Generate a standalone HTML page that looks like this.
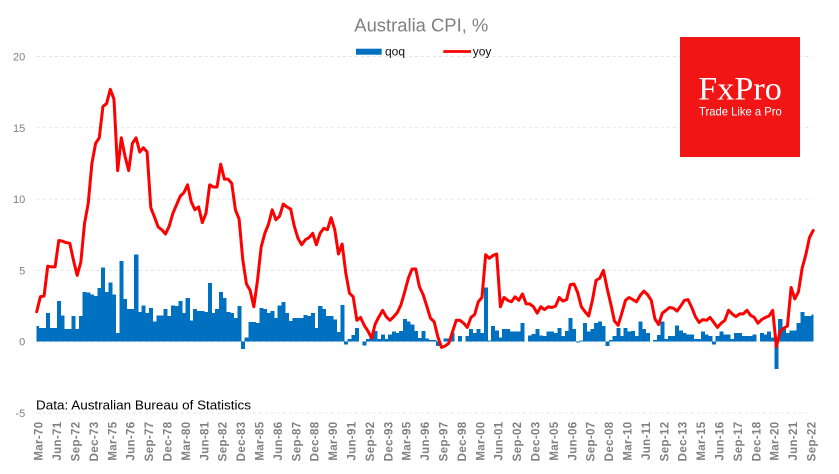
<!DOCTYPE html>
<html>
<head>
<meta charset="utf-8">
<style>
  html,body{margin:0;padding:0;background:#ffffff;}
  svg{display:block;}
  .yl{font-family:"Liberation Sans",Arial,sans-serif;font-size:11px;fill:#7f7f7f;}
  .xl{font-family:"Liberation Sans",Arial,sans-serif;font-size:11.5px;font-weight:bold;fill:#808080;letter-spacing:0.35px;}
  .lg{font-family:"Liberation Sans",Arial,sans-serif;font-size:12px;fill:#111;}
</style>
</head>
<body>
<svg id="c" width="839" height="474" viewBox="0 0 839 474" xmlns="http://www.w3.org/2000/svg">
  <rect x="0" y="0" width="839" height="474" fill="#ffffff"/>
  <g stroke="#e3e3e3" stroke-width="1" stroke-dasharray="3,3" fill="none">
    <line x1="36.7" y1="56.5" x2="811.7" y2="56.5"/>
    <line x1="36.7" y1="127.8" x2="811.7" y2="127.8"/>
    <line x1="36.7" y1="199.1" x2="811.7" y2="199.1"/>
    <line x1="36.7" y1="270.4" x2="811.7" y2="270.4"/>
    <line x1="36.7" y1="341.7" x2="811.7" y2="341.7"/>
    <line x1="36.7" y1="413.0" x2="811.7" y2="413.0"/>
  </g>
  <g id="bars" fill="#0070c0" shape-rendering="crispEdges"></g>
  <polyline id="yoy" fill="none" stroke="#ff0000" stroke-width="3" stroke-linejoin="round" stroke-linecap="round" points=""/>

  <text class="yl" x="25.3" y="60.5" text-anchor="end">20</text>
  <text class="yl" x="25.3" y="131.8" text-anchor="end">15</text>
  <text class="yl" x="25.3" y="203.1" text-anchor="end">10</text>
  <text class="yl" x="25.3" y="274.4" text-anchor="end">5</text>
  <text class="yl" x="25.3" y="345.7" text-anchor="end">0</text>
  <text class="yl" x="25.3" y="417.0" text-anchor="end">-5</text>

  <text x="354.3" y="31.7" font-family="Liberation Sans, Arial, sans-serif" font-size="18.5" fill="#808080" textLength="134" lengthAdjust="spacingAndGlyphs">Australia CPI, %</text>

  <rect x="356" y="48.7" width="25.7" height="6" fill="#0070c0"/>
  <text class="lg" x="385" y="55.5">qoq</text>
  <line x1="443.3" y1="51.5" x2="471" y2="51.5" stroke="#ff0000" stroke-width="2.8"/>
  <text class="lg" x="472.7" y="55.5">yoy</text>

  <rect x="680" y="37" width="120" height="120" fill="#f21516"/>
  <text x="698.3" y="99.3" font-family="Liberation Serif, serif" font-size="33" fill="#ffffff" textLength="83.5" lengthAdjust="spacingAndGlyphs">FxPro</text>
  <text x="699" y="115.3" font-family="Liberation Sans, Arial, sans-serif" font-size="11.6" fill="#ffffff" textLength="82.7" lengthAdjust="spacingAndGlyphs">Trade Like a Pro</text>

  <text x="36" y="409.3" font-family="Liberation Sans, Arial, sans-serif" font-size="13" fill="#000000" textLength="215" lengthAdjust="spacingAndGlyphs">Data: Australian Bureau of Statistics</text>

  <g class="xl" text-anchor="end">
    <text transform="translate(42.7,421.5) rotate(-90)">Mar-70</text>
    <text transform="translate(61.1,421.5) rotate(-90)">Jun-71</text>
    <text transform="translate(79.5,421.5) rotate(-90)">Sep-72</text>
    <text transform="translate(97.9,421.5) rotate(-90)">Dec-73</text>
    <text transform="translate(116.3,421.5) rotate(-90)">Mar-75</text>
    <text transform="translate(134.7,421.5) rotate(-90)">Jun-76</text>
    <text transform="translate(153.1,421.5) rotate(-90)">Sep-77</text>
    <text transform="translate(171.5,421.5) rotate(-90)">Dec-78</text>
    <text transform="translate(189.9,421.5) rotate(-90)">Mar-80</text>
    <text transform="translate(208.3,421.5) rotate(-90)">Jun-81</text>
    <text transform="translate(226.7,421.5) rotate(-90)">Sep-82</text>
    <text transform="translate(245.1,421.5) rotate(-90)">Dec-83</text>
    <text transform="translate(263.5,421.5) rotate(-90)">Mar-85</text>
    <text transform="translate(281.9,421.5) rotate(-90)">Jun-86</text>
    <text transform="translate(300.3,421.5) rotate(-90)">Sep-87</text>
    <text transform="translate(318.7,421.5) rotate(-90)">Dec-88</text>
    <text transform="translate(337.1,421.5) rotate(-90)">Mar-90</text>
    <text transform="translate(355.5,421.5) rotate(-90)">Jun-91</text>
    <text transform="translate(373.9,421.5) rotate(-90)">Sep-92</text>
    <text transform="translate(392.3,421.5) rotate(-90)">Dec-93</text>
    <text transform="translate(410.7,421.5) rotate(-90)">Mar-95</text>
    <text transform="translate(429.1,421.5) rotate(-90)">Jun-96</text>
    <text transform="translate(447.5,421.5) rotate(-90)">Sep-97</text>
    <text transform="translate(465.9,421.5) rotate(-90)">Dec-98</text>
    <text transform="translate(484.3,421.5) rotate(-90)">Mar-00</text>
    <text transform="translate(502.7,421.5) rotate(-90)">Jun-01</text>
    <text transform="translate(521.1,421.5) rotate(-90)">Sep-02</text>
    <text transform="translate(539.5,421.5) rotate(-90)">Dec-03</text>
    <text transform="translate(557.9,421.5) rotate(-90)">Mar-05</text>
    <text transform="translate(576.3,421.5) rotate(-90)">Jun-06</text>
    <text transform="translate(594.7,421.5) rotate(-90)">Sep-07</text>
    <text transform="translate(613.1,421.5) rotate(-90)">Dec-08</text>
    <text transform="translate(631.5,421.5) rotate(-90)">Mar-10</text>
    <text transform="translate(649.9,421.5) rotate(-90)">Jun-11</text>
    <text transform="translate(668.3,421.5) rotate(-90)">Sep-12</text>
    <text transform="translate(686.7,421.5) rotate(-90)">Dec-13</text>
    <text transform="translate(705.1,421.5) rotate(-90)">Mar-15</text>
    <text transform="translate(723.5,421.5) rotate(-90)">Jun-16</text>
    <text transform="translate(741.9,421.5) rotate(-90)">Sep-17</text>
    <text transform="translate(760.3,421.5) rotate(-90)">Dec-18</text>
    <text transform="translate(778.7,421.5) rotate(-90)">Mar-20</text>
    <text transform="translate(797.1,421.5) rotate(-90)">Jun-21</text>
    <text transform="translate(815.5,421.5) rotate(-90)">Sep-22</text>
  </g>
</svg>
<script>
(function(){
var q=[1.1,0.95,0.95,2.0,0.95,0.95,2.85,1.85,0.9,0.9,
1.8,0.9,1.8,3.5,3.45,3.3,3.2,3.75,5.2,3.5,
4.15,3.3,0.6,5.65,3.0,2.3,2.3,6.1,2.1,2.55,
2.0,2.35,1.4,1.85,1.85,2.3,1.8,2.55,2.5,2.85,
2.0,3.05,1.47,2.3,2.15,2.15,2.1,4.1,2.0,2.3,
3.5,3.05,2.1,2.0,1.65,2.5,-0.5,0.28,1.38,1.38,
1.3,2.35,2.3,2.0,2.15,1.65,2.55,2.8,2.0,1.45,
1.65,1.65,1.65,1.87,1.8,2.0,0.95,2.5,2.3,1.8,
1.8,1.55,0.68,2.57,-0.2,0.2,0.47,0.95,0,-0.25,
0.2,0.5,0.75,0.2,0.5,0.2,0.5,0.7,0.62,0.75,
1.6,1.4,1.2,0.75,0.25,0.75,0.23,0.12,0.12,-0.3,
0,0.23,0.23,0.6,0,0.4,0,0.4,0.9,0.6,
0.9,0.6,3.8,0.1,1.1,0.8,0.3,0.9,0.9,0.7,
0.7,0.7,1.3,0,0.45,0.55,0.9,0.45,0.4,0.7,
0.7,0.6,0.95,0.4,0.75,1.65,0.9,-0.07,0.1,1.3,
0.7,0.9,1.3,1.4,1.1,-0.3,0.12,0.4,0.95,0.4,
0.95,0.7,0.75,0.4,1.4,0.9,0.6,0,0.12,0.47,
1.4,0.2,0.4,0.4,1.15,0.8,0.6,0.5,0.5,0.2,
0.2,0.7,0.5,0.4,-0.2,0.4,0.7,0.5,0.5,0.2,
0.6,0.6,0.4,0.4,0.4,0.5,0,0.6,0.5,0.7,
0.3,-1.9,1.6,0.9,0.6,0.8,0.8,1.3,2.1,1.8,
1.8,1.9];
var y=[2.1,3.15,3.2,5.3,5.25,5.25,7.1,7.05,6.95,6.9,
5.7,4.65,5.6,8.3,9.7,12.5,13.9,14.3,16.5,16.7,
17.7,17.0,12.0,14.3,13.0,12.0,13.9,14.3,13.3,13.6,
13.3,9.4,8.75,8.05,7.85,7.55,8.1,9.0,9.6,10.2,
10.45,11.0,9.8,9.25,9.45,8.35,9.0,11.0,10.85,10.85,
12.45,11.4,11.4,11.1,9.25,8.6,5.75,4.05,3.6,2.45,
4.3,6.65,7.6,8.25,9.25,8.55,8.8,9.65,9.45,9.3,
8.1,7.25,6.8,7.15,7.3,7.6,6.8,7.6,7.95,7.85,
8.7,7.85,6.15,6.85,4.8,3.4,3.15,1.5,1.7,1.15,
0.75,0.25,1.25,1.75,2.2,1.75,1.5,1.75,2.05,2.6,
3.5,4.45,5.1,5.1,3.85,3.3,2.5,1.65,1.4,0.35,
-0.4,-0.3,-0.1,0.7,1.5,1.5,1.3,1.0,1.7,1.9,
2.8,3.1,6.1,5.85,6.05,6.15,2.45,3.1,2.9,2.8,
3.15,2.9,3.35,2.65,2.65,2.45,2.0,2.45,2.25,2.45,
2.4,2.5,3.1,2.85,2.95,4.0,4.05,3.45,2.45,2.1,
1.8,2.9,4.3,4.45,5.0,3.75,2.65,1.45,1.15,2.0,
2.9,3.1,2.95,2.8,3.25,3.55,3.3,2.9,1.6,1.2,
2.0,2.2,2.4,2.35,2.15,2.5,2.9,2.95,2.4,1.75,
1.35,1.55,1.5,1.7,1.35,1.0,1.3,1.5,2.2,1.95,
1.75,1.95,1.95,2.2,1.85,1.7,1.3,1.55,1.7,1.8,
2.2,-0.35,0.7,0.95,1.1,3.8,3.0,3.5,5.15,6.1,
7.3,7.8];
var NS="http://www.w3.org/2000/svg";
function X(i){return 36.7+3.68*i;}
function Y(v){return 341.7-14.26*v;}
var g=document.getElementById("bars");
var L=36.7,R=813.2;
for(var i=0;i<q.length;i++){
  var v=q[i]; if(v===0) continue;
  var x0=Math.max(L,X(i)-1.84), x1=Math.min(R,X(i)+1.84);
  var r=document.createElementNS(NS,"rect");
  var yt=Math.min(Y(v),Y(0)), h=Math.abs(v)*14.26;
  r.setAttribute("x",x0.toFixed(2));
  r.setAttribute("y",yt.toFixed(2));
  r.setAttribute("width",(x1-x0+0.35).toFixed(2));
  r.setAttribute("height",h.toFixed(2));
  g.appendChild(r);
}
var pts=[];
for(var j=0;j<y.length;j++){pts.push(X(j).toFixed(2)+","+Y(y[j]).toFixed(2));}
document.getElementById("yoy").setAttribute("points",pts.join(" "));
})();
</script>
</body>
</html>
